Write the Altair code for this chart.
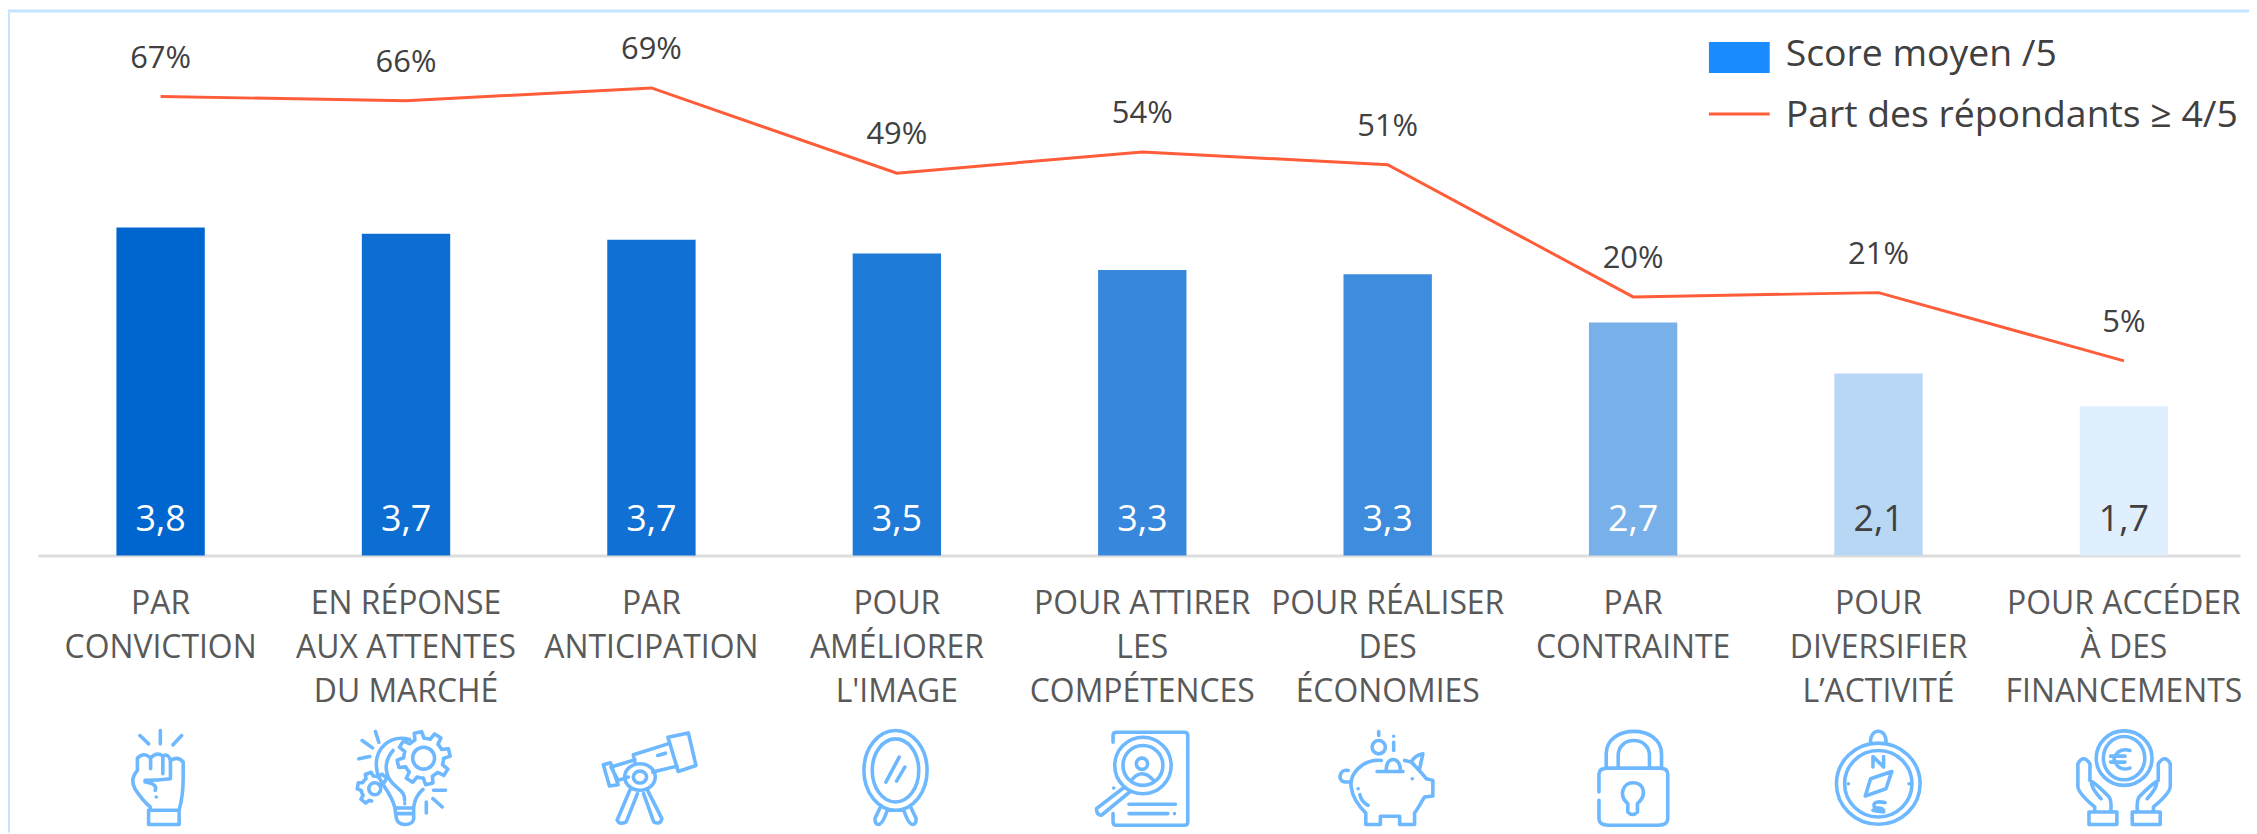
import math
import re
import altair as alt
import pandas as pd

categories = ["PAR|CONVICTION", "EN RÉPONSE|AUX ATTENTES|DU MARCHÉ", "PAR|ANTICIPATION",
              "POUR|AMÉLIORER|L'IMAGE", "POUR ATTIRER|LES|COMPÉTENCES", "POUR RÉALISER|DES|ÉCONOMIES",
              "PAR|CONTRAINTE", "POUR|DIVERSIFIER|L’ACTIVITÉ", "POUR ACCÉDER|À DES|FINANCEMENTS"]
scores = [3.8, 3.73, 3.66, 3.5, 3.31, 3.26, 2.70, 2.11, 1.73]
score_labels = ["3,8", "3,7", "3,7", "3,5", "3,3", "3,3", "2,7", "2,1", "1,7"]
shares = [67, 66, 69, 49, 54, 51, 20, 21, 5]
share_labels = ["67%", "66%", "69%", "49%", "54%", "51%", "20%", "21%", "5%"]
bar_colors = ["#0066CF", "#0C6ED3", "#1070D4", "#207BD8", "#3787DD", "#3D8CDE", "#78B1EA", "#B8D7F5", "#E0EFFE"]
label_colors = ["#FFFFFF"] * 7 + ["#404040", "#404040"]
legend_names = ["Score moyen /5", "Part des répondants ≥ 4/5"]
legend_colors = ["#1A8CFF", "#FF5C39"]
legend_shapes = ["M-1,-0.42H1V0.60H-1Z", "M-1,-0.10H1V0H-1Z"]


def ell(cx, cy, rx, ry):
    k = 0.5523
    return (f"M{cx-rx} {cy} C{cx-rx} {cy-k*ry} {cx-k*rx} {cy-ry} {cx} {cy-ry} "
            f"C{cx+k*rx} {cy-ry} {cx+rx} {cy-k*ry} {cx+rx} {cy} "
            f"C{cx+rx} {cy+k*ry} {cx+k*rx} {cy+ry} {cx} {cy+ry} "
            f"C{cx-k*rx} {cy+ry} {cx-rx} {cy+k*ry} {cx-rx} {cy} ")


def gear(cx, cy, r1, r2, n, a0=0.0, a1=360.0, closed=True):
    pts = []
    step = 360.0 / n
    a = a0
    while a < a1 - 1e-6:
        for da, r in ((0, r1), (0.2, r1), (0.32, r2), (0.68, r2), (0.8, r1)):
            t = math.radians(a + da * step)
            pts.append((cx + r * math.cos(t), cy + r * math.sin(t)))
        a += step
    s = "M" + " L".join(f"{x:.1f} {y:.1f}" for x, y in pts)
    return s + (" Z " if closed else " ")


def norm(path, cx, cy, sx, sy):
    out, i = [], 0
    for tok in re.findall(r"[MLCQZ]|-?\d+\.?\d*(?:e-?\d+)?", path):
        if tok in "MLCQZ":
            out.append(tok)
        else:
            v = float(tok)
            out.append(f"{(v-cx)/sx:.3f}" if i % 2 == 0 else f"{(v-cy)/sy:.3f}")
            i += 1
    return " ".join(out)


fist = norm("M315 755 L315 795 M275 770 L292 795 M357 770 L340 798 M292 995 L352 995 L352 1038 L292 1038 Z "
            "M270 875 L270 838 Q283 818 296 838 L296 870 M296 838 Q308 818 320 832 L320 885 "
            "M320 832 Q330 822 335 845 L335 895 M335 845 Q350 830 360 850 L360 900 Q360 950 352 995 "
            "M270 875 Q255 900 265 930 Q280 965 295 985 L295 995 M335 900 Q310 905 285 905 "
            "M285 910 Q310 915 305 935 M307 955 L307 955", 315.6, 898.5, 94, 144)
bulb = norm("M107 38 L117 70 M67 65 L98 87 M57 120 L90 113 "
            "M210 62 C150 45 105 90 110 145 C112 190 150 210 165 265 L170 300 Q175 318 195 318 Q220 318 222 300 L222 265 "
            "M170 285 L222 285 M165 268 L222 268 M160 95 C130 130 135 170 160 195 C180 215 195 220 195 245 M195 255 L195 255 "
            "M250 212 C235 225 225 240 222 265 M282 215 L318 215 M280 240 L308 265 M260 250 L260 283 "
            + gear(252, 118, 60, 80, 8, 10) + ell(252, 118, 33, 33)
            + gear(102, 210, 38, 50, 6, 100, 330, False) + ell(105, 210, 18, 18), 199, 178.5, 144, 144)
scope = norm("M1310 775 L1350 762 L1365 860 L1330 878 Z M1310 795 L1242 828 L1245 850 M1280 880 L1328 862 "
             "M1245 843 L1198 865 L1212 905 L1232 895 M1183 858 L1197 852 L1212 918 L1195 922 Z "
             "M1290 830 L1305 823 M1235 935 L1210 1025 Q1215 1040 1228 1030 L1250 945 "
             "M1270 935 L1298 1020 Q1295 1040 1282 1030 L1262 945 M1288 990 L1288 990 "
             + ell(1255, 895, 30, 40) + ell(1255, 895, 13, 18), 1277.5, 898.5, 94, 144)
mirror = norm(ell(257, 155, 95, 120) + ell(257, 155, 70, 95)
              + "M268 115 L228 190 M285 145 L260 187 M210 268 L195 300 Q195 318 205 318 Q218 318 232 275 "
                "M304 268 L319 300 Q319 318 309 318 Q296 318 282 275", 261, 178.5, 144, 144)
finder = norm("M100 70 L100 50 Q100 40 110 40 L315 40 Q325 40 325 50 L325 310 Q325 320 315 320 L110 320 Q100 320 100 310 L100 285 "
              + ell(190, 140, 85, 85) + ell(190, 140, 60, 60) + ell(187, 135, 17, 17)
              + "M155 185 Q187 145 222 185 M135 205 L50 270 Q50 290 65 290 L150 220 "
                "M148 257 L288 257 M148 285 L265 285 M285 285 L285 285 M102 208 L102 208", 188, 178.5, 144, 144)
piggy = norm("M185 125 C130 120 85 165 95 210 C100 245 125 270 138 283 L138 318 L182 318 L182 293 L240 293 L240 318 L285 318 L285 283 "
             "C295 270 305 250 315 235 L340 232 L340 185 L320 180 C305 160 285 140 275 130 L255 125 "
             "M275 130 Q285 110 310 105 L300 150 M85 155 C60 150 50 185 75 190 L95 190 M172 158 L250 158 "
             "M200 158 C195 110 245 110 242 158 M177 38 L177 50 M222 70 L222 95 M222 52 L222 52 "
             "M278 180 L278 180 M115 210 L115 210 M120 228 Q125 250 145 260 "
             + ell(177, 85, 20, 20), 204, 178.5, 144, 144)
lock = norm("M205 940 L205 885 Q205 868 225 868 L330 868 Q348 868 348 885 L348 1020 Q348 1040 328 1040 L225 1040 Q205 1040 205 1020 L205 965 "
            "M220 865 L220 825 C220 735 335 735 335 825 L335 865 M245 865 L245 830 C245 770 310 770 310 830 L310 865 "
            "M265 975 C245 950 255 912 275 912 C300 912 305 950 285 975 L285 1000 Q275 1015 265 1000 Z", 276, 898.5, 99.4, 144)
compass = norm(ell(784, 915, 87, 122) + ell(784, 915, 70, 100)
               + "M768 793 C765 745 803 745 800 793 M812 878 L768 900 L757 952 L800 930 Z "
                 "M773 865 L773 833 L795 865 L795 833 M798 972 Q775 965 775 980 Q775 990 785 988 Q797 990 795 1000 Q790 1000 773 995 "
                 "M722 915 L722 915 M848 915 L848 915", 784.5, 898.5, 99.4, 144)
hands = norm(ell(1293, 838, 58, 82) + ell(1293, 838, 43, 65)
             + "M1305 815 Q1280 805 1272 840 Q1280 880 1305 868 M1265 832 L1295 832 M1265 850 L1295 850 "
               "M1220 1000 L1278 1000 L1278 1038 L1220 1038 Z M1310 1000 L1368 1000 L1368 1038 L1310 1038 Z "
               "M1232 1000 L1232 985 Q1195 940 1197 920 L1197 855 Q1208 825 1222 855 L1222 905 Q1235 915 1262 955 Q1268 970 1265 1000 "
               "M1225 910 Q1225 930 1245 960 "
               "M1354 1000 L1354 985 Q1391 940 1389 920 L1389 855 Q1378 825 1364 855 L1364 905 Q1351 915 1324 955 Q1318 970 1321 1000 "
               "M1361 910 Q1361 930 1341 960", 1292.7, 898.5, 99.4, 144)
icons = [fist, bulb, scope, mirror, finder, piggy, lock, compass, hands]

df = pd.DataFrame({
    "cat": categories, "score": scores, "score_label": score_labels, "share": shares,
    "share_label": share_labels, "bar_color": bar_colors, "label_color": label_colors, "icon": icons,
})
FONT = "Open Sans"
X = alt.X("cat:N", sort=None, title=None,
          scale=alt.Scale(paddingInner=0.64, paddingOuter=0.3065, align=0.522),
          axis=alt.Axis(labelExpr="split(datum.label, '|')", labelAngle=0, labelFont=FONT, labelFontSize=32,
                        labelColor="#595959", labelLineHeight=44.5, labelPadding=33, labelLimit=400,
                        labelBaseline="top", labelAlign="center", labelOverlap=False, ticks=False, grid=False,
                        domainColor="#DDDDDD", domainWidth=3))
Y_SCORE = alt.Scale(domain=[0, 6.293])
Y_SHARE = alt.Scale(domain=[-40.65, 86.7])

base = alt.Chart(df)
bars = base.mark_bar().encode(x=X, y=alt.Y("score:Q", scale=Y_SCORE, axis=None),
                              fill=alt.Fill("bar_color:N", scale=None))
bar_text = base.mark_text(font=FONT, fontSize=36, baseline="middle", dy=-36).encode(
    x=X, y=alt.Y(datum=0, scale=Y_SCORE, axis=None), text="score_label:N",
    fill=alt.Fill("label_color:N", scale=None))
line = base.mark_line(color="#FF5C39", strokeWidth=3).encode(
    x=X, y=alt.Y("share:Q", scale=Y_SHARE, axis=None))
share_text = base.mark_text(font=FONT, fontSize=31, baseline="middle", dy=-38, color="#404040").encode(
    x=X, y=alt.Y("share:Q", scale=Y_SHARE, axis=None), text="share_label:N")
icon_marks = base.mark_point(filled=False, opacity=1, size=9216, strokeWidth=3.6, color="#6DB8FF",
                             strokeCap="round", strokeJoin="round").encode(
    x=X, y=alt.value(768.5), shape=alt.Shape("icon:N", scale=None))

legend_df = pd.DataFrame({"serie": legend_names})
legend_opts = dict(title=None, orient="none", legendX=1677, legendY=12, symbolSize=3721, labelFont=FONT,
                   labelFontSize=37.5, labelColor="#404040", labelOffset=16, rowPadding=12, labelLimit=600,
                   symbolStrokeWidth=0, symbolType="square")
legend_layer = alt.Chart(legend_df).mark_point(filled=True, opacity=1, size=0).encode(
    color=alt.Color("serie:N", sort=None, scale=alt.Scale(domain=legend_names, range=legend_colors),
                    legend=alt.Legend(**legend_opts)),
    shape=alt.Shape("serie:N", sort=None, scale=alt.Scale(domain=legend_names, range=legend_shapes),
                    legend=alt.Legend(**legend_opts)),
)

frame_df = pd.DataFrame({"a": [0]})
top_band = alt.Chart(frame_df).mark_rect(color="#C4E3FF").encode(
    x=alt.value(-30), x2=alt.value(2219), y=alt.value(-3), y2=alt.value(0))
left_strip = alt.Chart(frame_df).mark_rect(color="#C4E3FF").encode(
    x=alt.value(-30), x2=alt.value(-28), y=alt.value(0), y2=alt.value(823))

chart = alt.layer(
    top_band, left_strip, bars, bar_text, line, share_text, icon_marks, legend_layer
).resolve_scale(y="independent").properties(
    width=2210, height=545,
    padding={"left": 30, "top": 3, "right": 9, "bottom": 278},
    autosize=alt.AutoSizeParams(type="none"),
).configure_view(stroke=None)

chart.save("out.html", embed_options={"renderer": "svg", "actions": False})
